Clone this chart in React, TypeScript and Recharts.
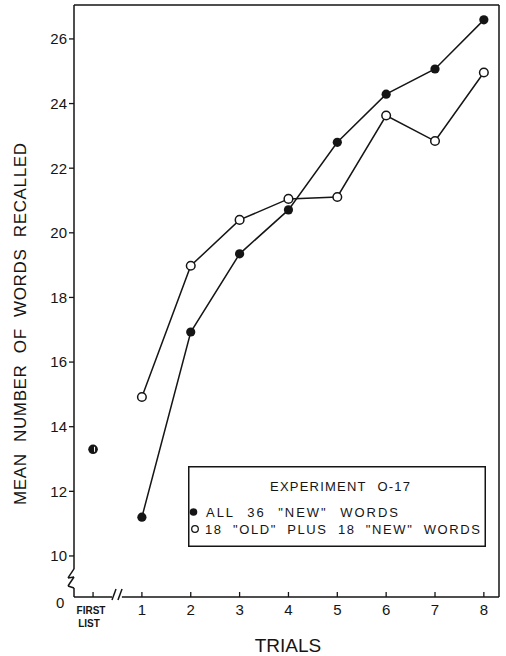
import React from 'react';
import { LineChart, Line, XAxis, YAxis, ReferenceLine, Legend, Label } from 'recharts';

// trial 0 stands for the "first list" baseline
const trials = [0, 1, 2, 3, 4, 5, 6, 7, 8];
const trialLabels = ['FIRST LIST', '1', '2', '3', '4', '5', '6', '7', '8'];
const firstList = [13.3, null, null, null, null, null, null, null, null];
const allNewWords = [null, 11.2, 16.93, 19.35, 20.71, 22.8, 24.29, 25.07, 26.59];
const oldPlusNewWords = [null, 14.92, 18.98, 20.4, 21.05, 21.11, 23.63, 22.84, 24.96];
const yTicks = [10, 12, 14, 16, 18, 20, 22, 24, 26];

const X_DOMAIN: [number, number] = [-0.39, 8.31];
const Y_DOMAIN: [number, number] = [8.73, 27.05];

const INK = '#151515';
const FONT = '"Liberation Sans", Arial, Helvetica, sans-serif';

const data = trials.map((t, i) => ({
  trial: t,
  first: firstList[i],
  allNew: allNewWords[i],
  oldNew: oldPlusNewWords[i],
}));

// frame pieces, with the axis breaks (zigzag on y, // on x)
const [x0, x1] = X_DOMAIN;
const [y0, y1] = Y_DOMAIN;
const framePaths: { x: number; y: number }[][] = [
  [{ x: x0, y: y1 }, { x: x1, y: y1 }],
  [{ x: x1, y: y0 }, { x: x1, y: y1 }],
  [{ x: x0, y: y1 }, { x: x0, y: 9.6 }, { x: -0.513, y: 9.32 }, { x: x0, y: 9.35 }, { x: -0.513, y: 9.07 }, { x: x0, y: 9.01 }, { x: x0, y: y0 }],
  [{ x: x0, y: y0 }, { x: 0.39, y: y0 }],
  [{ x: 0.388, y: 8.64 }, { x: 0.47, y: 8.98 }],
  [{ x: 0.51, y: 8.64 }, { x: 0.593, y: 8.98 }],
  [{ x: 0.59, y: y0 }, { x: x1, y: y0 }],
];

const TrialTick = (props: any) => {
  const { x, y, payload } = props;
  const label = trialLabels[trials.indexOf(payload.value)];
  return (
    <g fontFamily={FONT} fill={INK}>
      <line x1={x} y1={y} x2={x} y2={y - 5} stroke={INK} strokeWidth={1.3} />
      {payload.value === 0 ? (
        <>
          <text x={x - 33} y={y + 10.5} fontSize={15} textAnchor="middle">0</text>
          <text x={x - 2} y={y + 16.5} fontSize={10} fontWeight="bold" textAnchor="middle">FIRST</text>
          <text x={x - 4} y={y + 30} fontSize={10} fontWeight="bold" textAnchor="middle">LIST</text>
        </>
      ) : (
        <text x={x} y={y + 18} fontSize={15} textAnchor="middle">{label}</text>
      )}
    </g>
  );
};

const filledDot = (props: any) => {
  const { cx, cy, index } = props;
  if (cx == null || cy == null) return <g key={`f${index}`} />;
  return <circle key={`f${index}`} cx={cx} cy={cy} r={4.6} fill={INK} />;
};

const openDot = (props: any) => {
  const { cx, cy, index } = props;
  if (cx == null || cy == null) return <g key={`o${index}`} />;
  return <circle key={`o${index}`} cx={cx} cy={cy} r={4.3} fill="#fff" stroke={INK} strokeWidth={1.5} />;
};

// the first-list point is drawn nearly filled, with a small light notch
const firstDot = (props: any) => {
  const { cx, cy, index } = props;
  if (cx == null || cy == null) return <g key={`s${index}`} />;
  return (
    <g key={`s${index}`}>
      <circle cx={cx} cy={cy} r={4.8} fill={INK} />
      <line x1={cx + 1.5} y1={cy - 2.5} x2={cx + 1.5} y2={cy + 2.5} stroke="#fff" strokeWidth={1} />
    </g>
  );
};

const legendText = { fontSize: 13, fill: INK, lengthAdjust: 'spacing' as const };

const renderLegend = () => (
  <svg width={298} height={81} style={{ display: 'block', fontFamily: FONT }}>
    <rect x={0.75} y={0.75} width={296.5} height={79.5} fill="#fff" stroke={INK} strokeWidth={1.5} />
    <text x={152} y={24.5} textAnchor="middle" textLength={140} {...legendText} style={{ wordSpacing: 6 }}>
      EXPERIMENT O-17
    </text>
    <circle cx={5.5} cy={46} r={3.8} fill={INK} />
    <text x={18} y={50.5} textLength={192} {...legendText} style={{ wordSpacing: 7 }}>
      ALL 36 "NEW" WORDS
    </text>
    <circle cx={7} cy={63} r={3.3} fill="#fff" stroke={INK} strokeWidth={1.3} />
    <text x={17} y={67.5} textLength={275} {...legendText} style={{ wordSpacing: 5 }}>
      18 "OLD" PLUS 18 "NEW" WORDS
    </text>
  </svg>
);

export default function App() {
  return (
    <div style={{ position: 'absolute', left: 0, top: 0, width: 506, height: 656, background: '#fff' }}>
      <LineChart
        width={506}
        height={656}
        data={data}
        margin={{ top: 5, right: 7, bottom: 0, left: 0 }}
        style={{ fontFamily: FONT }}
      >
        <XAxis
          dataKey="trial"
          type="number"
          domain={X_DOMAIN}
          allowDataOverflow
          ticks={trials}
          interval={0}
          height={59}
          axisLine={false}
          tickLine={false}
          tickSize={0}
          tickMargin={0}
          tick={<TrialTick />}
        >
          <Label
            content={() => (
              <text x={288} y={652} fontSize={19} textAnchor="middle" fill={INK} fontFamily={FONT}>
                TRIALS
              </text>
            )}
          />
        </XAxis>
        <YAxis
          type="number"
          domain={Y_DOMAIN}
          allowDataOverflow
          ticks={yTicks}
          interval={0}
          width={74}
          axisLine={false}
          tickLine={{ stroke: INK, strokeWidth: 1.3 }}
          tickSize={5}
          tickMargin={2}
          tick={{ fontSize: 15, fill: INK, fontFamily: FONT }}
        >
          <Label
            content={() => (
              <text
                x={20}
                y={324}
                transform="rotate(-90 20 324)"
                fontSize={17}
                textAnchor="middle"
                dominantBaseline="central"
                textLength={362}
                lengthAdjust="spacing"
                fill={INK}
                fontFamily={FONT}
                style={{ wordSpacing: 6 }}
              >
                MEAN NUMBER OF WORDS RECALLED
              </text>
            )}
          />
        </YAxis>
        {framePaths.flatMap((path, p) =>
          path.slice(1).map((pt, i) => (
            <ReferenceLine
              key={`frame-${p}-${i}`}
              segment={[path[i], pt]}
              stroke={INK}
              strokeWidth={1.5}
              ifOverflow="visible"
            />
          ))
        )}
        <Line
          dataKey="oldNew"
          stroke={INK}
          strokeWidth={1.5}
          dot={openDot}
          activeDot={false}
          isAnimationActive={false}
        />
        <Line
          dataKey="allNew"
          stroke={INK}
          strokeWidth={1.5}
          dot={filledDot}
          activeDot={false}
          isAnimationActive={false}
        />
        <Line
          dataKey="first"
          stroke="none"
          dot={firstDot}
          activeDot={false}
          isAnimationActive={false}
        />
        <Legend
          layout="vertical"
          align="center"
          verticalAlign="middle"
          wrapperStyle={{ position: 'absolute', left: 188, top: 466, width: 298, height: 81 }}
          content={renderLegend}
        />
      </LineChart>
    </div>
  );
}
